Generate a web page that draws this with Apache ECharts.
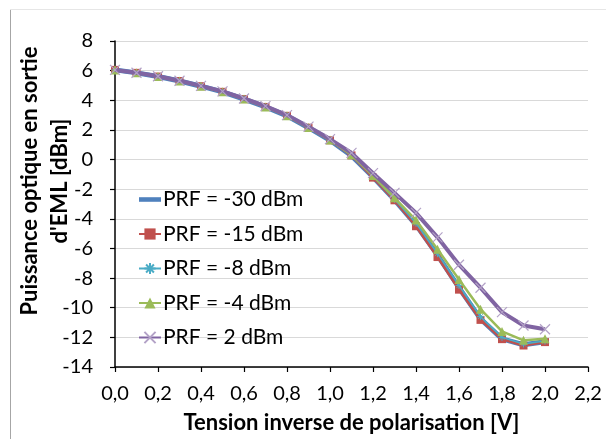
<!DOCTYPE html>
<html>
<head>
<meta charset="utf-8">
<script src="https://cdn.jsdelivr.net/npm/echarts@6/dist/echarts.min.js"></script>
<style>
html,body{margin:0;padding:0;background:#fff;}
#chart{width:606px;height:439px;}
</style>
</head>
<body>
<div id="chart"></div>
<script>
const xValues = [0.0,0.1,0.2,0.3,0.4,0.5,0.6,0.7,0.8,0.9,1.0,1.1,1.2,1.3,1.4,1.5,1.6,1.7,1.8,1.9,2.0];
const seriesNames = ['PRF = -30 dBm','PRF = -15 dBm','PRF = -8 dBm','PRF = -4 dBm','PRF = 2 dBm'];
const prfM30 = [6.05,5.85,5.6,5.3,4.95,4.57,4.08,3.55,2.95,2.15,1.3,0.26,-1.18,-2.72,-4.4,-6.45,-8.65,-10.75,-12.1,-12.5,-12.3];
const prfM15 = [6.05,5.85,5.6,5.3,4.95,4.57,4.08,3.55,2.95,2.15,1.3,0.28,-1.22,-2.75,-4.5,-6.58,-8.78,-10.82,-12.12,-12.55,-12.32];
const prfM8  = [6.05,5.85,5.6,5.3,4.95,4.57,4.08,3.55,2.95,2.15,1.3,0.28,-1.15,-2.68,-4.3,-6.35,-8.5,-10.6,-12.0,-12.45,-12.25];
const prfM4  = [6.05,5.85,5.6,5.3,4.95,4.57,4.08,3.55,2.95,2.16,1.32,0.32,-1.08,-2.58,-4.08,-6.05,-8.1,-10.1,-11.6,-12.2,-12.1];
const prfP2  = [6.05,5.86,5.62,5.32,4.97,4.6,4.12,3.6,3.0,2.22,1.38,0.45,-0.92,-2.25,-3.6,-5.25,-7.1,-8.65,-10.3,-11.2,-11.45];
const yTicks = {min:-14, max:8, interval:2};
const xTicks = {min:0, max:2.2, interval:0.2};

const FONT = 'Lato';
const pairs = arr => arr.map((v,i)=>[xValues[i], v]);

const chart = echarts.init(document.getElementById('chart'), null, {renderer:'canvas'});
chart.setOption({
  animation:false,
  backgroundColor:'#fff',
  textStyle:{fontFamily:FONT},
  grid:{left:115, right:18, top:41, bottom:71.5, containLabel:false},
  xAxis:{
    type:'value', min:xTicks.min, max:xTicks.max, interval:xTicks.interval,
    axisLine:{show:true, onZero:false, lineStyle:{color:'#000', width:1.5}},
    axisTick:{show:true, length:5, lineStyle:{color:'#000', width:1.2}},
    axisLabel:{margin:17, fontSize:20, color:'#000', fontFamily:FONT,
      formatter:v=>(Math.round(v*10)/10).toFixed(1).replace('.',',')},
    splitLine:{show:false},
    name:'Tension inverse de polarisation [V]', nameLocation:'middle', nameGap:45,
    nameTextStyle:{fontSize:22, fontWeight:'bold', color:'#000', fontFamily:FONT}
  },
  yAxis:{
    type:'value', min:yTicks.min, max:yTicks.max, interval:yTicks.interval,
    axisLine:{show:true, onZero:false, lineStyle:{color:'#000', width:1.5}},
    axisTick:{show:true, length:5, lineStyle:{color:'#000', width:1.2}},
    axisLabel:{margin:22, fontSize:20, color:'#000', fontFamily:FONT},
    splitLine:{show:true, lineStyle:{color:'#D9D9D9', width:1.2}}
  },
  legend:{
    orient:'vertical', left:133, top:184, itemGap:13.5, itemWidth:22, itemHeight:14,
    textStyle:{fontSize:21, lineHeight:21, color:'#000', fontFamily:FONT, padding:[0,0,0,-3]},
    data:[
      {name:seriesNames[0], icon:'path://M0,0H24V5H0Z'},
      seriesNames[1], seriesNames[2], seriesNames[3], seriesNames[4]
    ]
  },
  graphic:[
    {type:'line', shape:{x1:10.5,y1:9,x2:10.5,y2:439}, style:{stroke:'#A6A6A6', lineWidth:1}, silent:true},
    {type:'line', shape:{x1:10,y1:9.5,x2:606,y2:9.5}, style:{stroke:'#E6E6E6', lineWidth:1}, silent:true},
    {type:'text', x:45, y:181, rotation:Math.PI/2, silent:true,
      style:{text:"Puissance optique en sortie\nd'EML [dBm]", fontSize:22, fontWeight:'bold', fontFamily:FONT,
        fill:'#000', align:'center', verticalAlign:'middle', lineHeight:30}}
  ],
  series:[
    {name:seriesNames[0], type:'line', data:pairs(prfM30), showSymbol:false, symbol:'none',
      lineStyle:{color:'#4F81BD', width:5}, itemStyle:{color:'#4F81BD'}, z:2},
    {name:seriesNames[1], type:'line', data:pairs(prfM15), symbol:'rect', symbolSize:8,
      lineStyle:{color:'#C0504D', width:2.5}, itemStyle:{color:'#C0504D'}, z:3},
    {name:seriesNames[2], type:'line', data:pairs(prfM8), symbol:'path://M0,5L10,5M5,0L5,10M1.5,1.5L8.5,8.5M8.5,1.5L1.5,8.5', symbolSize:7,
      lineStyle:{color:'#4BACC6', width:1.5}, itemStyle:{color:'#4BACC6', borderColor:'#4BACC6', borderWidth:1}, z:4},
    {name:seriesNames[3], type:'line', data:pairs(prfM4), symbol:'triangle', symbolSize:9,
      lineStyle:{color:'#9BBB59', width:2.5}, itemStyle:{color:'#9BBB59'}, z:5},
    {name:seriesNames[4], type:'line', data:pairs(prfP2), symbol:'path://M0,0L10,10M10,0L0,10', symbolSize:10,
      lineStyle:{color:'#8064A2', width:4}, itemStyle:{color:'#8064A2', borderColor:'#B3A2C7', borderWidth:1.2}, z:6}
  ]
});
</script>
</body>
</html>
